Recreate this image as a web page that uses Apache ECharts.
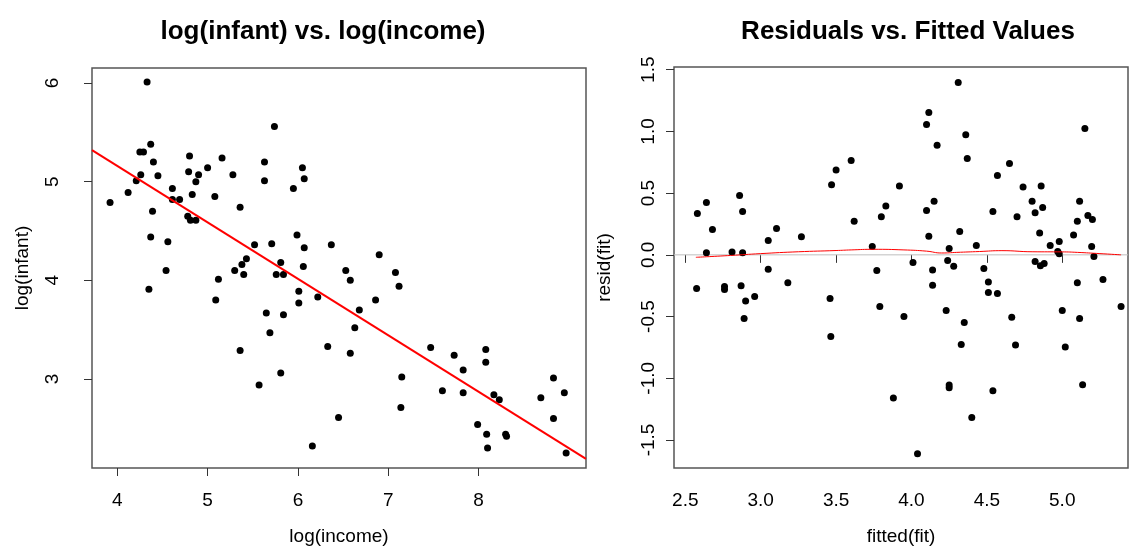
<!DOCTYPE html>
<html><head><meta charset="utf-8">
<script src="https://cdn.jsdelivr.net/npm/echarts@6/dist/echarts.min.js"></script>
<style>html,body{margin:0;padding:0;background:#fff}#c{width:1132px;height:552px}</style>
</head><body><div id="c"></div>
<script>
// ---- Left panel: log(income) vs log(infant)
const logIncome = [3.92,4.12,4.21,4.25,4.29,4.26,4.33,4.35,4.37,4.37,4.39,4.40,4.45,4.54,4.56,4.61,4.61,4.69,4.78,4.79,4.80,4.81,4.83,4.87,4.87,4.90,5.00,5.08,5.09,5.12,5.16,5.28,5.30,5.36,5.36,5.38,5.40,5.43,5.52,5.57,5.63,5.63,5.65,5.69,5.71,5.74,5.76,5.81,5.81,5.84,5.84,5.95,5.99,6.01,6.01,6.05,6.06,6.07,6.07,6.16,6.22,6.33,6.37,6.45,6.53,6.58,6.58,6.63,6.68,6.86,6.90,7.08,7.12,7.14,7.15,7.47,7.60,7.73,7.83,7.83,7.99,8.08,8.08,8.09,8.10,8.17,8.23,8.30,8.31,8.69,8.83,8.83,8.95,8.97];
const logInfant = [4.79,4.89,5.01,5.30,5.30,5.07,6.01,3.91,5.38,4.44,4.70,5.20,5.06,4.10,4.39,4.93,4.82,4.82,4.65,5.10,5.26,4.61,4.87,4.61,5.00,5.07,5.14,4.85,3.80,4.01,5.24,5.07,4.10,4.74,3.29,4.16,4.06,4.22,4.36,2.94,5.20,5.01,3.67,3.47,4.37,5.56,4.06,4.18,3.06,4.06,3.65,4.93,4.46,3.89,3.77,5.14,4.14,5.03,4.33,2.32,3.83,3.33,4.36,2.61,4.10,4.00,3.26,3.52,3.70,3.80,4.26,4.08,3.94,2.71,3.02,3.32,2.88,3.24,3.09,2.86,2.54,3.30,3.17,2.44,2.30,2.84,2.79,2.44,2.42,2.81,3.01,2.60,2.86,2.25];
const lmIntercept = 7.448, lmSlope = -0.572;
const leftXTicks = [4,5,6,7,8];
const leftYTicks = [3,4,5,6];

// ---- Right panel: fitted vs residuals
const fittedVals = [3.50,3.47,2.86,2.64,2.58,2.88,2.68,3.105,3.05,3.27,2.64,2.81,2.88,3.05,4.31,4.115,4.10,4.36,4.17,4.37,3.60,3.92,3.83,4.15,4.10,3.80,3.62,4.115,4.32,3.74,4.43,4.25,4.01,4.24,4.28,4.48,4.14,3.77,5.15,4.65,4.57,4.74,4.86,4.80,5.115,4.54,4.87,4.82,4.70,5.17,5.20,5.10,4.85,5.075,4.98,4.92,5.195,4.97,4.98,5.21,4.82,4.88,4.855,3.18,2.575,2.76,2.76,2.87,2.96,2.90,2.89,3.46,3.465,4.51,4.51,4.14,3.79,3.95,4.23,4.35,4.33,4.25,4.25,3.88,4.40,4.04,4.57,5.10,5.27,5.39,5.00,4.665,5.115,4.69,5.02,5.135,4.54];
const residVals = [0.687,0.568,0.481,0.424,0.335,0.351,0.205,0.213,0.116,0.146,0.016,0.024,0.016,-0.116,1.397,1.154,1.057,0.973,0.887,0.781,0.765,0.557,0.395,0.435,0.359,0.308,0.273,0.151,0.189,0.067,0.076,0.051,-0.062,-0.046,-0.092,-0.111,-0.122,-0.127,1.024,0.740,0.643,0.549,0.557,0.435,0.435,0.351,0.384,0.341,0.308,0.319,0.286,0.273,0.178,0.160,0.108,0.076,0.067,0.027,0.008,-0.013,-0.054,-0.071,-0.089,-0.227,-0.273,-0.257,-0.281,-0.251,-0.338,-0.373,-0.516,-0.354,-0.662,-0.219,-0.305,-0.246,-0.419,-0.500,-0.451,-0.549,-0.727,-1.054,-1.076,-1.160,-1.317,-1.611,-0.314,-0.227,-0.200,-0.419,-0.451,-0.506,-0.516,-0.730,-0.746,-1.052,-1.101];
const smoothX = [2.57,2.8,3.0,3.25,3.5,3.6,3.75,3.95,4.1,4.2,4.3,4.45,4.6,4.8,5.0,5.1,5.25,5.39];
const smoothY = [-0.02,-0.005,0.01,0.025,0.035,0.04,0.045,0.04,0.03,0.015,0.02,0.027,0.034,0.025,0.024,0.02,0.01,0.0];
const rightXTicks = [2.5,3.0,3.5,4.0,4.5,5.0];
const rightYTicks = [-1.5,-1.0,-0.5,0.0,0.5,1.0,1.5];

const L = {xmin:3.72, xmax:9.19, ymin:2.098, ymax:6.152};
const R = {xmin:2.425, xmax:5.436, ymin:-1.727, ymax:1.522};

const FONT = '"Liberation Sans", Arial, sans-serif';
const ink = '#000';
function xAx(gi, r, ticks, name, dec){
  return {gridIndex:gi, type:'value', min:r.xmin, max:r.xmax, name:name, nameLocation:'middle', nameGap:59,
    nameTextStyle:{fontFamily:FONT, fontSize:19, color:ink},
    splitLine:{show:false}, axisLine:{show:false},
    axisTick:{show:true, inside:false, length:8, customValues:ticks, lineStyle:{color:'#333'}},
    axisLabel:{customValues:ticks, margin:23, fontFamily:FONT, fontSize:19, color:ink, formatter:v=>dec?v.toFixed(1):String(v)}};
}
function yAx(gi, r, ticks, name, dec, lm){
  return {gridIndex:gi, type:'value', min:r.ymin, max:r.ymax, name:name, nameLocation:'middle', nameGap:60,
    nameTextStyle:{fontFamily:FONT, fontSize:19, color:ink},
    splitLine:{show:false}, axisLine:{show:false},
    axisTick:{show:true, inside:false, length:8, customValues:ticks, lineStyle:{color:'#333'}},
    axisLabel:{customValues:ticks, rotate:90, margin:lm, fontFamily:FONT, fontSize:19, color:ink, formatter:v=>dec?v.toFixed(1):String(v)}};
}
const leftPts = logIncome.map((x,i)=>[x, logInfant[i]]);
const rightPts = fittedVals.map((x,i)=>[x, residVals[i]]);
const lmLine = [L.xmin, L.xmax].map(x=>[x, lmIntercept + lmSlope*x]);
const smooth = smoothX.map((x,i)=>[x, smoothY[i]]);

const chart = echarts.init(document.getElementById('c'), null, {renderer:'canvas'});
chart.setOption({
  animation:false,
  backgroundColor:'#fff',
  title:[
    {text:'log(infant) vs. log(income)', left:318, top:14, textAlign:'center', textStyle:{fontFamily:FONT, fontSize:26, fontWeight:'bold', color:ink}},
    {text:'Residuals vs. Fitted Values', left:903, top:14, textAlign:'center', textStyle:{fontFamily:FONT, fontSize:26, fontWeight:'bold', color:ink}}
  ],
  grid:[
    {left:92, top:68, width:494, height:400, show:true, borderColor:'#555', borderWidth:1.5, backgroundColor:'transparent'},
    {left:674, top:67, width:454, height:401, show:true, borderColor:'#555', borderWidth:1.5, backgroundColor:'transparent'}
  ],
  xAxis:[xAx(0,L,leftXTicks,'log(income)',false), xAx(1,R,rightXTicks,'fitted(fit)',true)],
  yAxis:[yAx(0,L,leftYTicks,'log(infant)',false,30), yAx(1,R,rightYTicks,'resid(fit)',true,16)],
  series:[
    {type:'scatter', xAxisIndex:0, yAxisIndex:0, data:leftPts, symbol:'circle', symbolSize:7, itemStyle:{color:'#000', opacity:1}},
    {type:'line', xAxisIndex:0, yAxisIndex:0, data:lmLine, showSymbol:false, lineStyle:{color:'#ff0000', width:2}, z:3},
    {type:'line', xAxisIndex:1, yAxisIndex:1, data:[[R.xmin,0],[R.xmax,0]], showSymbol:false, lineStyle:{color:'#bebebe', width:1}, z:1},
    {type:'scatter', xAxisIndex:1, yAxisIndex:1, data:rightPts, symbol:'circle', symbolSize:7, itemStyle:{color:'#000', opacity:1}, z:2},
    {type:'line', xAxisIndex:1, yAxisIndex:1, data:smooth, smooth:true, showSymbol:false, lineStyle:{color:'#ff0000', width:1}, z:3}
  ]
});
</script></body></html>
